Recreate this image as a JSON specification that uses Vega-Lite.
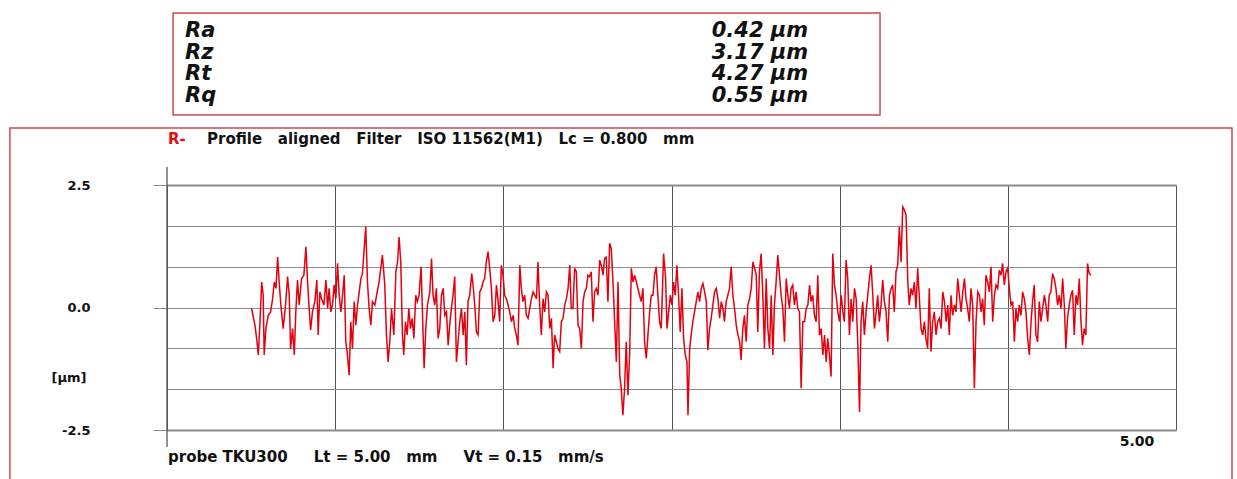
{
"$schema": "https://vega.github.io/schema/vega-lite/v6.json",
"width": 1009, "height": 245,
"autosize": {"type": "none"},
"padding": {"left": 167, "top": 185, "right": 61, "bottom": 49},
"background": "white",
"config": {"view": {"stroke": null}, "font": "DejaVu Sans"},
"datasets": {
"stats": [
{"param": "Ra", "value": "0.42 µm"},
{"param": "Rz", "value": "3.17 µm"},
{"param": "Rt", "value": "4.27 µm"},
{"param": "Rq", "value": "0.55 µm"}
],
"profile": [
{"x":0.503,"y":-0.02},{"x":0.523,"y":-0.36},{"x":0.533,"y":-0.63},{"x":0.543,"y":-0.97},{"x":0.553,"y":-0.29},{"x":0.563,"y":0.52},{"x":0.572,"y":0.25},{"x":0.578,"y":-0.97},{"x":0.588,"y":-0.43},{"x":0.602,"y":-0.16},{"x":0.616,"y":-0.09},{"x":0.628,"y":0.18},{"x":0.638,"y":0.52},{"x":0.648,"y":0.39},{"x":0.658,"y":1.03},{"x":0.667,"y":0.52},{"x":0.677,"y":0.05},{"x":0.691,"y":-0.43},{"x":0.705,"y":0.05},{"x":0.717,"y":0.63},{"x":0.727,"y":0.25},{"x":0.735,"y":-0.84},{"x":0.747,"y":-0.43},{"x":0.757,"y":-0.97},{"x":0.766,"y":-0.09},{"x":0.776,"y":0.56},{"x":0.786,"y":0.05},{"x":0.800,"y":0.59},{"x":0.814,"y":0.66},{"x":0.826,"y":1.24},{"x":0.836,"y":0.52},{"x":0.844,"y":0.05},{"x":0.854,"y":-0.46},{"x":0.865,"y":-0.09},{"x":0.879,"y":0.12},{"x":0.891,"y":0.56},{"x":0.899,"y":-0.56},{"x":0.909,"y":0.32},{"x":0.919,"y":0.18},{"x":0.933,"y":0.05},{"x":0.945,"y":0.56},{"x":0.955,"y":-0.02},{"x":0.964,"y":0.39},{"x":0.974,"y":-0.09},{"x":0.984,"y":0.05},{"x":0.994,"y":0.46},{"x":1.004,"y":0.18},{"x":1.014,"y":0.90},{"x":1.024,"y":0.25},{"x":1.034,"y":-0.09},{"x":1.044,"y":0.25},{"x":1.054,"y":0.66},{"x":1.063,"y":-0.70},{"x":1.071,"y":-0.90},{"x":1.083,"y":-1.38},{"x":1.093,"y":-0.29},{"x":1.103,"y":-0.84},{"x":1.113,"y":0.12},{"x":1.123,"y":-0.36},{"x":1.133,"y":0.05},{"x":1.143,"y":0.32},{"x":1.153,"y":0.59},{"x":1.162,"y":0.69},{"x":1.170,"y":1.07},{"x":1.182,"y":1.65},{"x":1.192,"y":0.52},{"x":1.202,"y":-0.02},{"x":1.212,"y":-0.36},{"x":1.222,"y":0.12},{"x":1.236,"y":0.05},{"x":1.250,"y":0.32},{"x":1.261,"y":0.52},
{"x":1.281,"y":1.07},{"x":1.295,"y":0.46},{"x":1.305,"y":-0.56},{"x":1.315,"y":-1.11},{"x":1.325,"y":-0.70},{"x":1.335,"y":-0.02},{"x":1.349,"y":-0.56},{"x":1.361,"y":0.73},{"x":1.371,"y":0.93},{"x":1.380,"y":1.44},{"x":1.390,"y":0.93},{"x":1.400,"y":-0.56},{"x":1.408,"y":-0.97},{"x":1.418,"y":-0.29},{"x":1.428,"y":-0.56},{"x":1.438,"y":-0.02},{"x":1.448,"y":-0.43},{"x":1.458,"y":-0.22},{"x":1.468,"y":-0.63},{"x":1.479,"y":0.25},{"x":1.489,"y":0.12},{"x":1.499,"y":0.25},{"x":1.511,"y":0.83},{"x":1.519,"y":-0.09},{"x":1.529,"y":-1.24},{"x":1.539,"y":-0.43},{"x":1.549,"y":0.05},{"x":1.563,"y":0.32},{"x":1.573,"y":1.00},{"x":1.582,"y":0.25},{"x":1.592,"y":0.05},{"x":1.602,"y":0.39},{"x":1.612,"y":-0.63},{"x":1.622,"y":-0.43},{"x":1.632,"y":0.25},{"x":1.642,"y":0.39},{"x":1.652,"y":-0.16},{"x":1.662,"y":-0.09},{"x":1.672,"y":-0.77},{"x":1.681,"y":-0.36},{"x":1.691,"y":-0.02},{"x":1.701,"y":0.25},{"x":1.711,"y":0.63},{"x":1.721,"y":-1.11},{"x":1.731,"y":-0.70},{"x":1.741,"y":-0.29},{"x":1.751,"y":-0.02},{"x":1.761,"y":-0.56},{"x":1.771,"y":-0.09},{"x":1.780,"y":-1.18},{"x":1.790,"y":0.12},{"x":1.800,"y":0.25},{"x":1.812,"y":0.69},{"x":1.820,"y":0.46},{"x":1.830,"y":0.05},{"x":1.840,"y":-0.50},{"x":1.850,"y":-0.56},{"x":1.860,"y":0.32},{"x":1.870,"y":0.39},{"x":1.879,"y":0.52},{"x":1.889,"y":0.59},{"x":1.899,"y":0.93},{"x":1.909,"y":1.14},{"x":1.919,"y":0.80},{"x":1.929,"y":0.39},{"x":1.939,"y":-0.29},{"x":1.949,"y":-0.16},{"x":1.959,"y":0.46},{"x":1.969,"y":0.12},{"x":1.978,"y":-0.29},{"x":1.988,"y":0.86},{"x":1.998,"y":0.66},{"x":2.008,"y":0.25},{"x":2.018,"y":0.18},{"x":2.028,"y":0.05},{"x":2.038,"y":-0.09},{"x":2.048,"y":-0.29},{"x":2.058,"y":-0.16},{"x":2.068,"y":-0.43},{"x":2.077,"y":-0.56},{"x":2.087,"y":-0.77},
{"x":2.098,"y":0.86},{"x":2.107,"y":0.39},{"x":2.117,"y":0.12},{"x":2.127,"y":0.25},{"x":2.137,"y":-0.16},{"x":2.147,"y":-0.22},{"x":2.157,"y":-0.02},{"x":2.167,"y":0.18},{"x":2.177,"y":0.32},{"x":2.187,"y":0.25},{"x":2.197,"y":0.18},{"x":2.206,"y":0.93},{"x":2.216,"y":0.05},{"x":2.226,"y":-0.56},{"x":2.236,"y":0.18},{"x":2.246,"y":-0.09},{"x":2.256,"y":0.32},{"x":2.266,"y":0.25},{"x":2.276,"y":-0.43},{"x":2.286,"y":-0.22},{"x":2.296,"y":-1.24},{"x":2.305,"y":-0.56},{"x":2.315,"y":-0.70},{"x":2.325,"y":-0.84},{"x":2.335,"y":-0.90},{"x":2.345,"y":-0.29},{"x":2.355,"y":-0.22},{"x":2.365,"y":0.05},{"x":2.375,"y":0.18},{"x":2.385,"y":0.39},{"x":2.395,"y":0.86},{"x":2.404,"y":-0.02},{"x":2.414,"y":-0.02},{"x":2.424,"y":0.80},{"x":2.434,"y":0.73},{"x":2.444,"y":-0.36},{"x":2.454,"y":-0.43},{"x":2.464,"y":-0.84},{"x":2.474,"y":0.12},{"x":2.484,"y":0.32},{"x":2.494,"y":0.39},{"x":2.503,"y":0.66},{"x":2.513,"y":0.63},{"x":2.523,"y":0.73},{"x":2.533,"y":-0.29},{"x":2.543,"y":0.32},{"x":2.553,"y":0.39},{"x":2.563,"y":0.25},{"x":2.573,"y":0.97},{"x":2.583,"y":0.86},{"x":2.593,"y":0.66},{"x":2.602,"y":1.00},{"x":2.612,"y":1.03},{"x":2.622,"y":0.12},{"x":2.632,"y":1.31},{"x":2.642,"y":1.20},{"x":2.652,"y":0.52},{"x":2.662,"y":-0.29},{"x":2.672,"y":-1.11},{"x":2.682,"y":0.52},{"x":2.692,"y":-1.38},{"x":2.701,"y":-1.65},{"x":2.711,"y":-2.20},{"x":2.721,"y":-1.65},{"x":2.731,"y":-0.70},{"x":2.741,"y":-1.79},{"x":2.751,"y":-0.97},{"x":2.761,"y":0.80},{"x":2.771,"y":0.52},{"x":2.781,"y":0.66},{"x":2.791,"y":0.52},{"x":2.800,"y":0.39},{"x":2.810,"y":0.25},{"x":2.820,"y":0.12},{"x":2.830,"y":0.39},{"x":2.840,"y":-0.70},{"x":2.850,"y":-1.04},{"x":2.860,"y":-0.56},{"x":2.870,"y":-0.09},{"x":2.880,"y":0.25},{"x":2.890,"y":0.25},{"x":2.899,"y":0.66},{"x":2.909,"y":0.83},{"x":2.919,"y":0.25},{"x":2.929,"y":-0.29},
{"x":2.939,"y":-0.43},{"x":2.953,"y":1.10},{"x":2.965,"y":0.59},{"x":2.973,"y":-0.43},{"x":2.983,"y":-0.09},{"x":2.993,"y":0.25},{"x":3.003,"y":0.05},{"x":3.012,"y":0.52},{"x":3.022,"y":0.25},{"x":3.032,"y":0.86},{"x":3.042,"y":0.25},{"x":3.052,"y":-0.50},{"x":3.062,"y":0.39},{"x":3.072,"y":-0.63},{"x":3.082,"y":-0.97},{"x":3.092,"y":-1.11},{"x":3.098,"y":-2.20},{"x":3.108,"y":-0.84},{"x":3.117,"y":-0.56},{"x":3.127,"y":-0.29},{"x":3.137,"y":-0.09},{"x":3.147,"y":0.12},{"x":3.157,"y":0.32},{"x":3.167,"y":0.12},{"x":3.177,"y":0.39},{"x":3.187,"y":0.49},{"x":3.197,"y":0.32},{"x":3.207,"y":0.12},{"x":3.216,"y":-0.87},{"x":3.226,"y":-0.43},{"x":3.236,"y":-0.22},{"x":3.246,"y":0.05},{"x":3.256,"y":0.32},{"x":3.266,"y":0.39},{"x":3.276,"y":0.18},{"x":3.286,"y":-0.22},{"x":3.296,"y":0.12},{"x":3.306,"y":-0.02},{"x":3.315,"y":-0.29},{"x":3.325,"y":0.12},{"x":3.335,"y":0.25},{"x":3.345,"y":0.39},{"x":3.355,"y":0.83},{"x":3.365,"y":0.25},{"x":3.375,"y":-0.02},{"x":3.385,"y":-0.36},{"x":3.395,"y":-0.56},{"x":3.405,"y":-0.70},{"x":3.414,"y":-1.07},{"x":3.424,"y":-0.43},{"x":3.434,"y":-0.16},{"x":3.444,"y":-0.70},{"x":3.454,"y":0.05},{"x":3.464,"y":0.18},{"x":3.474,"y":0.39},{"x":3.484,"y":0.93},{"x":3.494,"y":0.80},{"x":3.504,"y":0.66},{"x":3.513,"y":-0.50},{"x":3.523,"y":0.73},{"x":3.533,"y":1.10},{"x":3.543,"y":0.25},{"x":3.553,"y":-0.84},{"x":3.563,"y":0.59},{"x":3.573,"y":-0.43},{"x":3.583,"y":-0.84},{"x":3.593,"y":0.25},{"x":3.603,"y":-0.97},{"x":3.612,"y":0.05},{"x":3.622,"y":0.52},{"x":3.632,"y":1.07},{"x":3.642,"y":0.66},{"x":3.652,"y":0.25},{"x":3.662,"y":-0.02},{"x":3.672,"y":-0.70},{"x":3.682,"y":0.59},{"x":3.692,"y":0.25},{"x":3.701,"y":-0.02},{"x":3.711,"y":0.39},{"x":3.721,"y":0.46},{"x":3.731,"y":0.05},{"x":3.741,"y":0.32},{"x":3.751,"y":-0.02},{"x":3.761,"y":-0.09},{"x":3.771,"y":-1.65},{"x":3.781,"y":-0.29},
{"x":3.791,"y":-0.29},{"x":3.801,"y":-0.02},{"x":3.811,"y":0.05},{"x":3.821,"y":0.46},{"x":3.830,"y":0.12},{"x":3.840,"y":0.25},{"x":3.850,"y":-0.16},{"x":3.860,"y":-0.29},{"x":3.870,"y":0.66},{"x":3.880,"y":-0.56},{"x":3.890,"y":-0.43},{"x":3.900,"y":-0.97},{"x":3.910,"y":-0.56},{"x":3.920,"y":-1.11},{"x":3.929,"y":-0.63},{"x":3.939,"y":-0.97},{"x":3.949,"y":-1.41},{"x":3.959,"y":1.10},{"x":3.969,"y":0.46},{"x":3.979,"y":0.25},{"x":3.989,"y":-0.09},{"x":3.999,"y":-0.29},{"x":4.009,"y":0.25},{"x":4.019,"y":-0.09},{"x":4.028,"y":-0.29},{"x":4.038,"y":0.97},{"x":4.048,"y":0.59},{"x":4.058,"y":-0.56},{"x":4.068,"y":0.18},{"x":4.078,"y":-0.29},{"x":4.088,"y":0.39},{"x":4.098,"y":0.18},{"x":4.108,"y":-0.77},{"x":4.118,"y":-2.13},{"x":4.127,"y":-0.29},{"x":4.137,"y":0.12},{"x":4.147,"y":-0.56},{"x":4.157,"y":-0.09},{"x":4.167,"y":0.25},{"x":4.177,"y":0.59},{"x":4.187,"y":0.86},{"x":4.197,"y":0.25},{"x":4.207,"y":-0.43},{"x":4.217,"y":-0.09},{"x":4.226,"y":0.25},{"x":4.236,"y":-0.29},{"x":4.246,"y":0.05},{"x":4.256,"y":0.56},{"x":4.266,"y":0.12},{"x":4.276,"y":-0.09},{"x":4.286,"y":-0.70},{"x":4.296,"y":0.25},{"x":4.306,"y":0.39},{"x":4.315,"y":0.46},{"x":4.325,"y":-0.09},{"x":4.335,"y":0.73},{"x":4.345,"y":0.86},{"x":4.355,"y":1.65},{"x":4.365,"y":0.93},{"x":4.375,"y":2.05},{"x":4.385,"y":1.99},{"x":4.395,"y":1.88},{"x":4.405,"y":0.52},{"x":4.414,"y":0.05},{"x":4.424,"y":0.39},{"x":4.434,"y":0.25},{"x":4.444,"y":0.52},{"x":4.454,"y":-0.02},{"x":4.464,"y":0.80},{"x":4.474,"y":0.18},{"x":4.484,"y":-0.43},{"x":4.494,"y":-0.56},{"x":4.504,"y":-0.29},{"x":4.513,"y":-0.63},{"x":4.523,"y":-0.84},{"x":4.533,"y":0.39},{"x":4.543,"y":-0.90},{"x":4.553,"y":-0.29},{"x":4.563,"y":-0.09},{"x":4.573,"y":-0.56},{"x":4.583,"y":-0.29},
{"x":4.593,"y":-0.22},{"x":4.603,"y":-0.43},{"x":4.613,"y":0.32},{"x":4.623,"y":0.12},{"x":4.633,"y":-0.29},{"x":4.643,"y":0.05},{"x":4.652,"y":-0.56},{"x":4.662,"y":0.25},{"x":4.672,"y":-0.16},{"x":4.682,"y":0.05},{"x":4.692,"y":-0.09},{"x":4.702,"y":0.59},{"x":4.712,"y":0.25},{"x":4.722,"y":-0.09},{"x":4.732,"y":0.32},{"x":4.742,"y":0.59},{"x":4.751,"y":0.18},{"x":4.761,"y":-0.02},{"x":4.771,"y":-0.29},{"x":4.781,"y":0.39},{"x":4.791,"y":0.05},{"x":4.801,"y":-1.65},{"x":4.811,"y":-0.29},{"x":4.821,"y":0.32},{"x":4.831,"y":0.25},{"x":4.841,"y":-0.09},{"x":4.850,"y":0.18},{"x":4.860,"y":-0.36},{"x":4.870,"y":0.66},{"x":4.880,"y":0.52},{"x":4.890,"y":0.32},{"x":4.900,"y":0.83},{"x":4.910,"y":-0.29},{"x":4.920,"y":0.25},{"x":4.930,"y":0.46},{"x":4.940,"y":0.39},{"x":4.949,"y":0.76},{"x":4.959,"y":0.66},{"x":4.969,"y":0.90},{"x":4.979,"y":0.46},{"x":4.989,"y":0.73},{"x":4.999,"y":0.80},{"x":5.009,"y":0.39},{"x":5.019,"y":0.05},{"x":5.029,"y":0.12},{"x":5.039,"y":-0.70},{"x":5.048,"y":-0.02},{"x":5.058,"y":-0.29},{"x":5.068,"y":0.05},{"x":5.078,"y":-0.16},{"x":5.088,"y":0.32},{"x":5.098,"y":0.18},{"x":5.108,"y":-0.09},{"x":5.118,"y":-0.63},{"x":5.128,"y":-0.97},{"x":5.138,"y":-0.29},{"x":5.147,"y":0.12},{"x":5.157,"y":0.46},{"x":5.167,"y":-0.56},{"x":5.177,"y":-0.70},{"x":5.187,"y":0.12},{"x":5.197,"y":-0.29},{"x":5.207,"y":-0.02},{"x":5.217,"y":0.25},{"x":5.227,"y":0.05},{"x":5.237,"y":-0.29},{"x":5.246,"y":0.25},{"x":5.256,"y":0.32},{"x":5.266,"y":0.69},{"x":5.276,"y":0.59},{"x":5.286,"y":0.39},{"x":5.296,"y":0.05},{"x":5.306,"y":0.25},{"x":5.316,"y":-0.02},{"x":5.326,"y":0.59},{"x":5.336,"y":0.05},{"x":5.345,"y":-0.84},{"x":5.355,"y":-0.22},{"x":5.365,"y":0.05},{"x":5.375,"y":0.25},{"x":5.385,"y":0.35},{"x":5.395,"y":-0.56},{"x":5.405,"y":0.25},{"x":5.415,"y":0.05},{"x":5.425,"y":0.59},{"x":5.435,"y":-0.29},{"x":5.444,"y":-0.77},{"x":5.454,"y":-0.43},{"x":5.464,"y":-0.56},{"x":5.474,"y":0.90},{"x":5.484,"y":0.69},{"x":5.494,"y":0.66}
]
},
"layer": [
{
"layer": [
{
"data": {"name": "profile"},
"mark": {"type": "line", "color": "#e3000f", "strokeWidth": 1.5},
"encoding": {
"x": {"field": "x", "type": "quantitative", "scale": {"domain": [0, 6], "nice": false, "zero": false},
"axis": {"values": [0, 1, 2, 3, 4, 5, 6], "grid": true, "gridColor": "#555555", "gridWidth": 1, "domain": false, "ticks": false, "labels": false, "title": null}},
"y": {"field": "y", "type": "quantitative", "scale": {"domain": [-2.5, 2.5], "nice": false, "zero": false},
"axis": {"values": [-2.5, -1.6667, -0.8333, 0, 0.8333, 1.6667, 2.5], "grid": true, "gridColor": "#8c8c8c",
"gridWidth": {"condition": {"test": "abs(datum.value) > 2.4", "value": 2}, "value": 1},
"domain": false, "ticks": true, "tickSize": 14,
"tickColor": {"condition": {"test": "abs(datum.value) > 2.4 || datum.value == 0", "value": "#8c8c8c"}, "value": "transparent"},
"labelExpr": "datum.value > 2.4 ? '2.5' : (datum.value < -2.4 ? '-2.5' : (datum.value == 0 ? '0.0' : ''))",
"labelFont": "DejaVu Sans", "labelFontWeight": "bold", "labelFontSize": 13, "labelColor": "#111111", "labelPadding": 63, "title": null}}
}
},
{"data": {"values": [{}]}, "mark": {"type": "rule", "color": "#555555", "strokeWidth": 1.3},
"encoding": {"x": {"datum": 0}, "y": {"datum": 2.867}, "y2": {"datum": -2.847}}},
{"data": {"values": [{}]}, "mark": {"type": "rect", "fill": "transparent", "stroke": "#d04a4a", "strokeWidth": 1.5},
"encoding": {"x": {"datum": -0.934}, "x2": {"datum": 6.333}, "y": {"datum": 3.663}, "y2": {"datum": -3.8}}},
{"data": {"values": [{}]}, "mark": {"type": "rect", "fill": "transparent", "stroke": "#d04a4a", "strokeWidth": 1.5},
"encoding": {"x": {"datum": 0.036}, "x2": {"datum": 4.240}, "y": {"datum": 6.010}, "y2": {"datum": 3.929}}},
{"data": {"values": [{}]}, "mark": {"type": "text", "align": "left", "baseline": "middle", "font": "DejaVu Sans", "fontSize": 15, "fontWeight": "bold", "color": "#e01010", "text": "R-"},
"encoding": {"x": {"datum": 0.006}, "y": {"datum": 3.439}}},
{"data": {"values": [{}]}, "mark": {"type": "text", "align": "left", "baseline": "middle", "font": "DejaVu Sans", "fontSize": 15, "fontWeight": "bold", "color": "#111111", "text": "Profile\u00a0\u00a0\u00a0aligned\u00a0\u00a0\u00a0Filter\u00a0\u00a0\u00a0ISO 11562(M1)\u00a0\u00a0\u00a0Lc = 0.800\u00a0\u00a0\u00a0mm"},
"encoding": {"x": {"datum": 0.238}, "y": {"datum": 3.439}}},
{"data": {"values": [{}]}, "mark": {"type": "text", "align": "left", "baseline": "middle", "font": "DejaVu Sans", "fontSize": 15, "fontWeight": "bold", "color": "#111111", "text": "probe TKU300\u00a0\u00a0\u00a0\u00a0\u00a0Lt = 5.00\u00a0\u00a0\u00a0mm\u00a0\u00a0\u00a0\u00a0\u00a0Vt = 0.15\u00a0\u00a0\u00a0mm/s"},
"encoding": {"x": {"datum": 0.006}, "y": {"datum": -3.051}}},
{"data": {"values": [{}]}, "mark": {"type": "text", "align": "center", "baseline": "middle", "font": "DejaVu Sans", "fontSize": 14, "fontWeight": "bold", "color": "#111111", "text": "5.00"},
"encoding": {"x": {"datum": 5.768}, "y": {"datum": -2.745}}},
{"data": {"values": [{}]}, "mark": {"type": "text", "align": "center", "baseline": "middle", "font": "DejaVu Sans", "fontSize": 13, "fontWeight": "bold", "color": "#111111", "text": "[µm]"},
"encoding": {"x": {"datum": -0.583}, "y": {"datum": -1.439}}}
]
},
{
"data": {"name": "stats"},
"layer": [
{"mark": {"type": "text", "align": "left", "baseline": "middle", "font": "DejaVu Sans", "fontSize": 21, "fontWeight": "bold", "fontStyle": "italic", "color": "#111111"},
"encoding": {"x": {"datum": 0.107},
"y": {"field": "param", "type": "ordinal", "scale": {"type": "point", "domain": ["Ra", "Rz", "Rt", "Rq"], "range": [-154, -89], "padding": 0}, "axis": null},
"text": {"field": "param"}}},
{"mark": {"type": "text", "align": "center", "baseline": "middle", "font": "DejaVu Sans", "fontSize": 21, "fontWeight": "bold", "fontStyle": "italic", "color": "#111111"},
"encoding": {"x": {"datum": 3.526},
"y": {"field": "param", "type": "ordinal", "scale": {"type": "point", "domain": ["Ra", "Rz", "Rt", "Rq"], "range": [-154, -89], "padding": 0}, "axis": null},
"text": {"field": "value"}}}
]
}
],
"resolve": {"scale": {"y": "independent"}}
}
